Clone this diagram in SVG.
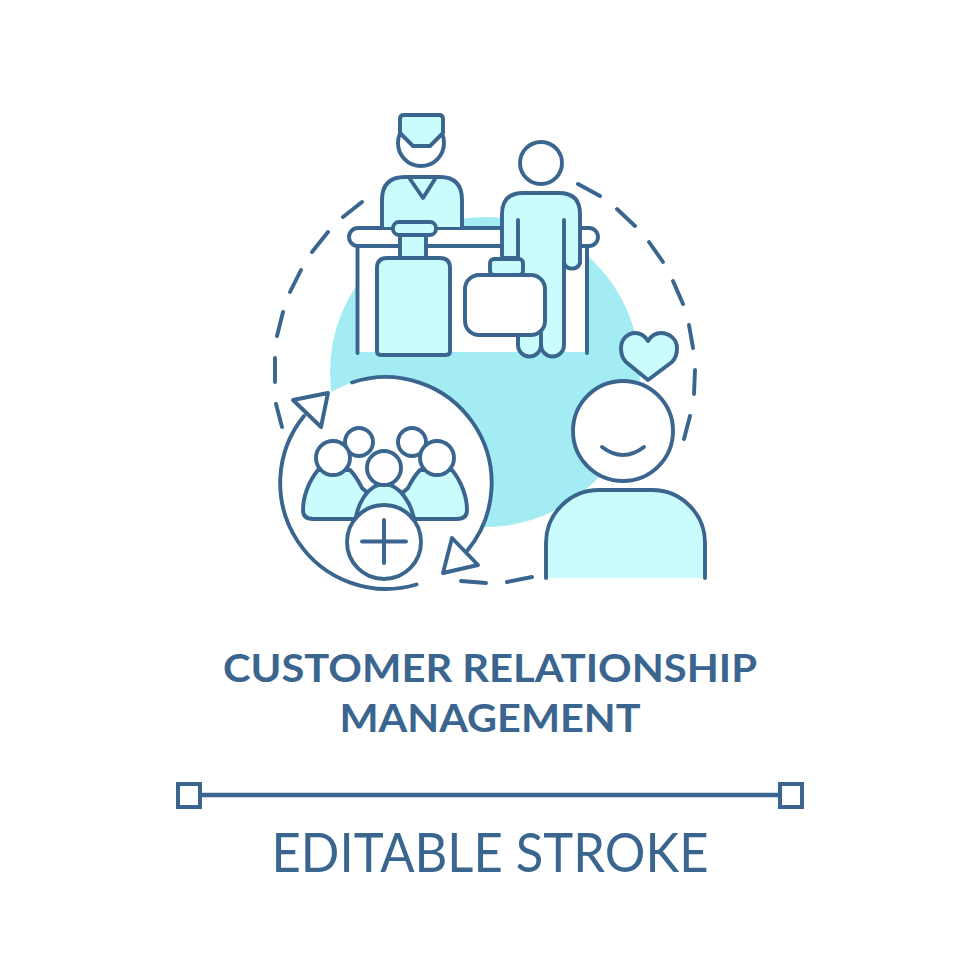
<svg xmlns="http://www.w3.org/2000/svg" width="980" height="980" viewBox="0 0 980 980">
<style>
.s{stroke:#3a658f;stroke-width:3.900;stroke-linecap:round;stroke-linejoin:round;fill:none}
.l{fill:#cafbfd}
.w{fill:#fff}
.t{fill:#3a658f;font-family:"Lato","Noto Sans",sans-serif;text-anchor:middle}
</style>
<rect width="980" height="980" fill="#fff"/>
<circle id="blob" cx="485" cy="372" r="155" fill="#a3ecf3"/>
<g id="dashed-ring" class="s">
<path d="M600 196L578 184M635 226L617 209M663 262L649 242M683 304L673 281M362 202L343 217M328 232L312 252M301 270L290 292M283 312L277 336M275 358L275 382M276 404L282 427M689 325L693 348M695 370L694 394M690 416L684 439M532 577L507 582M486 583L461 581"/>
</g>
<g id="desk">
<rect x="357.500" y="240" width="229.500" height="112" fill="#fff"/>
<path class="s" d="M357.500 246V353M587 246V353"/>
<rect class="s w" x="349" y="228" width="249" height="18" rx="9"/>
</g>
<g id="receptionist">
<path class="s l" d="M382 227V200Q382 177 405 177H440Q462 177 462 200V227"/>
<path class="s" d="M410 179L423 198L435 179"/>
<circle class="s w" cx="421" cy="143" r="23"/>
<path class="s l" d="M400 119Q400 115 404 115H439Q443 115 443 119V133L430 146H413L400 133Z"/>
</g>
<g id="luggage">
<path class="s l" d="M400 235H426V258H400Z"/>
<rect class="s l" x="393" y="222" width="43" height="13" rx="6"/>
<path class="s l" d="M377 268Q377 258 387 258H440Q450 258 450 268V351Q450 355 446 355H381Q377 355 377 351Z"/>
</g>
<g id="customer">
<circle class="s w" cx="541" cy="163" r="21"/>
<path class="s l" d="M502 258V214Q502 193 523 193H559Q580 193 580 214V263A8.500 8.500 0 0 1 564 263V345A11.500 11.500 0 0 1 541 345A11.500 11.500 0 0 1 518 345V258Z"/>
<path class="s" d="M518 220V345M564 220V263M541 333V345"/>
</g>
<g id="briefcase">
<rect class="s l" x="490" y="259" width="33" height="16" rx="4"/>
<rect class="s w" x="465" y="275" width="80" height="60" rx="14"/>
</g>
<g id="customer-happy">
<circle class="s w" cx="623" cy="431" r="50"/>
<path class="s" d="M602 447Q623 463 644 447"/>
<path class="s l" d="M546 578V543A53 53 0 0 1 599 490H652A53 53 0 0 1 705 543V578"/>
<path class="s l" d="M648 380L626 362Q621 357 621 348C621 339 628 333 635 333C641 333 645 336 648 341C651 336 655 333 661 333C669 333 677 339 677 348Q677 357 672 362Z"/>
</g>
<g id="crowd">
<circle cx="386" cy="483" r="106" class="w"/>
<path class="s" d="M352 382.500A106 106 0 0 1 467 551M416.500 584.500A106 106 0 0 1 304 416"/>
<path class="s w" d="M293 400L328 393L321 427Z"/>
<path class="s w" d="M452 538L478 565L443 573Z"/>
<circle class="s w" cx="359" cy="442" r="14"/>
<circle class="s w" cx="412" cy="442" r="14"/>
<path class="s l" d="M318 470C308 482 303 498 303 510Q303 519 313 519H370V495L362 488C358 480 354 474 350 470Z"/>
<path class="s l" d="M452 470C462 482 467 498 467 510Q467 519 457 519H400V495L408 488C412 480 416 474 420 470Z"/>
<circle class="s w" cx="333" cy="458" r="17"/>
<circle class="s w" cx="437" cy="458" r="17"/>
<path class="s l" d="M355 525C356 505 368 484 384 484S413 505 415 525V540H355Z"/>
<circle class="s w" cx="384" cy="468" r="17"/>
<circle class="s w" cx="384" cy="542" r="37"/>
<path class="s" d="M362 541.500H406M384 520V563"/>
</g>
<g id="labels">
<text class="t" x="490" y="682" font-size="39" font-weight="700" textLength="534" lengthAdjust="spacingAndGlyphs">CUSTOMER RELATIONSHIP</text>
<text class="t" x="490" y="732" font-size="39" font-weight="700" textLength="301" lengthAdjust="spacingAndGlyphs">MANAGEMENT</text>
<text class="t" x="490" y="872" font-size="54" textLength="437" lengthAdjust="spacingAndGlyphs">EDITABLE STROKE</text>
</g>
<g id="stroke-bar">
<path d="M200 795H780" stroke="#3a658f" stroke-width="4.500"/>
<rect x="178" y="784" width="22" height="23" fill="#fff" stroke="#3a658f" stroke-width="4"/>
<rect x="780" y="784" width="22" height="23" fill="#fff" stroke="#3a658f" stroke-width="4"/>
</g>
</svg>
